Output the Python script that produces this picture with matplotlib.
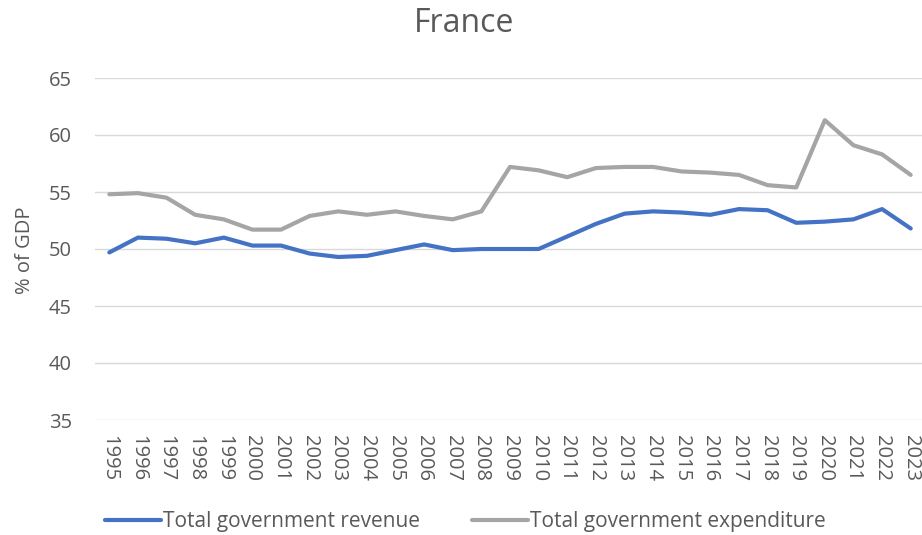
import matplotlib.pyplot as plt

years = [str(y) for y in range(1995, 2024)]
revenue = [49.7, 51.0, 50.9, 50.5, 51.0, 50.3, 50.3, 49.6, 49.3, 49.4,
           49.9, 50.4, 49.9, 50.0, 50.0, 50.0, 51.1, 52.2, 53.1, 53.3,
           53.2, 53.0, 53.5, 53.4, 52.3, 52.4, 52.6, 53.5, 51.8]
expenditure = [54.8, 54.9, 54.5, 53.0, 52.6, 51.7, 51.7, 52.9, 53.3, 53.0,
               53.3, 52.9, 52.6, 53.3, 57.2, 56.9, 56.3, 57.1, 57.2, 57.2,
               56.8, 56.7, 56.5, 55.6, 55.4, 61.3, 59.1, 58.3, 56.5]
yticks = [35, 40, 45, 50, 55, 60, 65]

plt.rcParams['font.family'] = ['Open Sans', 'DejaVu Sans']
text_col = '#595959'
fs = 14.5

fig = plt.figure(figsize=(9.22, 5.35), dpi=100)
ax = fig.add_axes([95 / 922, 1 - 420 / 535, 830 / 922, 342 / 535])

x = list(range(len(years)))
ax.plot(x, revenue, color='#4472C4', lw=3, solid_capstyle='round',
        label='Total government revenue', zorder=3)
ax.plot(x, expenditure, color='#A5A5A5', lw=3, solid_capstyle='round',
        label='Total government expenditure', zorder=3)

ax.set_xlim(-0.5, len(years) - 0.5)
ax.set_ylim(35, 65)
ax.set_yticks(yticks)
ax.set_xticks(x)
ax.set_xticklabels(years, rotation=-90, fontsize=fs, color=text_col)
ax.tick_params(axis='y', length=0, labelsize=fs, labelcolor=text_col, pad=16.5)
ax.tick_params(axis='x', length=0, pad=11)
ax.grid(axis='y', color='#d9d9d9', lw=1)
ax.set_axisbelow(True)
for s in ax.spines.values():
    s.set_visible(False)

fig.text(25 / 922, 1 - 250 / 535, '% of GDP', rotation=90, ha='center',
         va='center', fontsize=fs, color=text_col)
fig.text(464 / 922, 1 - 23 / 535, 'France', ha='center', va='center',
         fontsize=23, color=text_col)

# legend below the year labels
fig.legend(loc='center left', bbox_to_anchor=(105 / 922, 1 - 522 / 535),
           ncol=2, frameon=False, fontsize=15, handlelength=2.7,
           handletextpad=0.08, columnspacing=2.5, borderpad=0,
           borderaxespad=0, labelcolor=text_col)

fig.savefig('out.png', dpi=100)
